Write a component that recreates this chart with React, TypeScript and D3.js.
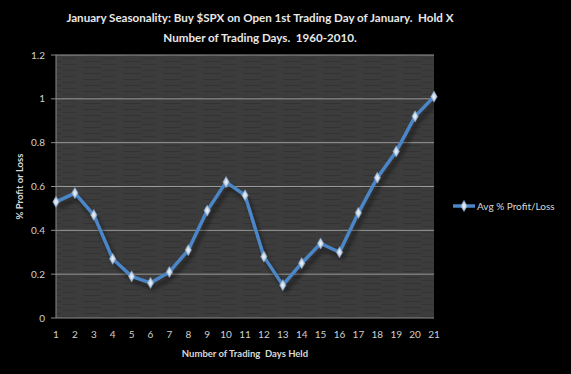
import { useEffect, useRef } from 'react';
import * as d3 from 'd3';

const days = d3.range(1, 22);
const avgProfit = [0.53, 0.57, 0.47, 0.27, 0.19, 0.16, 0.21, 0.31, 0.49, 0.62, 0.56, 0.28, 0.15, 0.25, 0.34, 0.3, 0.48, 0.64, 0.76, 0.92, 1.01];
const yTicks = [0, 0.2, 0.4, 0.6, 0.8, 1, 1.2];
const titleLines = [
  'January Seasonality: Buy $SPX on Open 1st Trading Day of January.  Hold X',
  'Number of Trading Days.  1960-2010.',
];
const seriesName = 'Avg % Profit/Loss';

const W = 571;
const H = 374;
const FONT = 'Lato, "Open Sans", sans-serif';

export default function App() {
  const svgRef = useRef<SVGSVGElement>(null);

  useEffect(() => {
    document.body.style.margin = '0';
    if (!svgRef.current) return;
    const svg = d3.select(svgRef.current);
    svg.selectAll('*').remove();

    const left = 56, right = 434, top = 55, bottom = 318;
    const x = d3.scaleLinear().domain([1, 21]).range([left, right]);
    const y = d3.scaleLinear().domain([0, 1.2]).range([bottom, top]);

    svg.append('rect').attr('width', W).attr('height', H).attr('fill', '#000');

    const defs = svg.append('defs');
    const pat = defs.append('pattern')
      .attr('id', 'wood').attr('patternUnits', 'userSpaceOnUse')
      .attr('width', 40).attr('height', 6);
    pat.append('rect').attr('width', 40).attr('height', 6).attr('fill', '#3c3c3c');
    pat.append('rect').attr('x', 3).attr('y', 1).attr('width', 18).attr('height', 1).attr('fill', '#333');
    pat.append('rect').attr('x', 22).attr('y', 4).attr('width', 14).attr('height', 1).attr('fill', '#353535');
    const grad = defs.append('radialGradient').attr('id', 'mk');
    grad.append('stop').attr('offset', '0%').attr('stop-color', '#f4f8fc');
    grad.append('stop').attr('offset', '100%').attr('stop-color', '#9bb3cf');
    const blur = defs.append('filter').attr('id', 'sh').attr('x', '-10%').attr('y', '-10%').attr('width', '120%').attr('height', '130%');
    blur.append('feGaussianBlur').attr('stdDeviation', 2);

    svg.append('rect')
      .attr('x', left).attr('y', top)
      .attr('width', right - left).attr('height', bottom - top)
      .attr('fill', 'url(#wood)');

    // gridlines
    svg.append('g').selectAll('line')
      .data(yTicks.filter(t => t > 0))
      .join('line')
      .attr('x1', left).attr('x2', right)
      .attr('y1', d => y(d)).attr('y2', d => y(d))
      .attr('stroke', '#9a9a9a').attr('stroke-width', 1);

    // axes lines
    svg.append('line').attr('x1', left).attr('x2', left).attr('y1', top).attr('y2', bottom).attr('stroke', '#8a8a8a');
    svg.append('line').attr('x1', left).attr('x2', right).attr('y1', bottom).attr('y2', bottom).attr('stroke', '#8a8a8a');
    svg.append('g').selectAll('line')
      .data(yTicks).join('line')
      .attr('x1', left - 5).attr('x2', left)
      .attr('y1', d => y(d)).attr('y2', d => y(d))
      .attr('stroke', '#8a8a8a');

    svg.append('g').selectAll('text')
      .data(yTicks).join('text')
      .attr('x', left - 11).attr('y', d => y(d) + 3.5)
      .attr('text-anchor', 'end')
      .attr('font-family', FONT).attr('font-size', 10).attr('fill', '#d0d0d0')
      .text(d => String(d));

    svg.append('g').selectAll('text')
      .data(days).join('text')
      .attr('x', d => x(d)).attr('y', 338)
      .attr('text-anchor', 'middle')
      .attr('font-family', FONT).attr('font-size', 10).attr('fill', '#d0d0d0')
      .text(d => String(d));

    const line = d3.line<number>().x((_, i) => x(days[i])).y(d => y(d));

    svg.append('path').datum(avgProfit)
      .attr('d', line).attr('transform', 'translate(3,5)')
      .attr('fill', 'none').attr('stroke', '#000').attr('stroke-opacity', 0.45)
      .attr('stroke-width', 4).attr('filter', 'url(#sh)');

    svg.append('path').datum(avgProfit)
      .attr('d', line)
      .attr('fill', 'none').attr('stroke', '#4a86c8').attr('stroke-width', 3.5)
      .attr('stroke-linejoin', 'round');

    const diamond = d3.symbol().type(d3.symbolDiamond).size(36);
    svg.append('g').selectAll('path')
      .data(avgProfit).join('path')
      .attr('d', diamond)
      .attr('transform', (d, i) => `translate(${x(days[i])},${y(d)})`)
      .attr('fill', 'url(#mk)').attr('stroke', '#7f9fc4').attr('stroke-width', 0.6);

    // titles
    svg.append('g').selectAll('text')
      .data(titleLines).join('text')
      .attr('x', 260).attr('y', (_, i) => 22 + i * 20)
      .attr('text-anchor', 'middle')
      .style('white-space', 'pre')
      .attr('font-family', FONT).attr('font-weight', 'bold').attr('font-size', 11.6)
      .attr('fill', '#e8e8e8')
      .text(d => d);

    svg.append('text')
      .attr('x', 245).attr('y', 357)
      .attr('text-anchor', 'middle')
      .style('white-space', 'pre')
      .attr('font-family', FONT).attr('font-weight', 'bold').attr('font-size', 9.5)
      .attr('fill', '#d8d8d8')
      .text('Number of Trading  Days Held');

    svg.append('text')
      .attr('transform', `translate(23,${(top + bottom) / 2}) rotate(-90)`)
      .attr('text-anchor', 'middle')
      .attr('font-family', FONT).attr('font-weight', 'bold').attr('font-size', 9.5)
      .attr('fill', '#d8d8d8')
      .text('% Profit or Loss');

    // legend
    const lg = svg.append('g').attr('transform', 'translate(453,206)');
    lg.append('line').attr('x1', 0).attr('x2', 22).attr('stroke', '#4a86c8').attr('stroke-width', 3.5);
    lg.append('path').attr('d', diamond).attr('transform', 'translate(11,0)')
      .attr('fill', 'url(#mk)').attr('stroke', '#7f9fc4').attr('stroke-width', 0.6);
    lg.append('text').attr('x', 24).attr('y', 3.5)
      .attr('font-family', FONT).attr('font-size', 10).attr('fill', '#d8d8d8')
      .text(seriesName);
  }, []);

  return (
    <div style={{ width: W, height: H }}>
      <svg ref={svgRef} width={W} height={H} style={{ display: 'block' }} />
    </div>
  );
}
